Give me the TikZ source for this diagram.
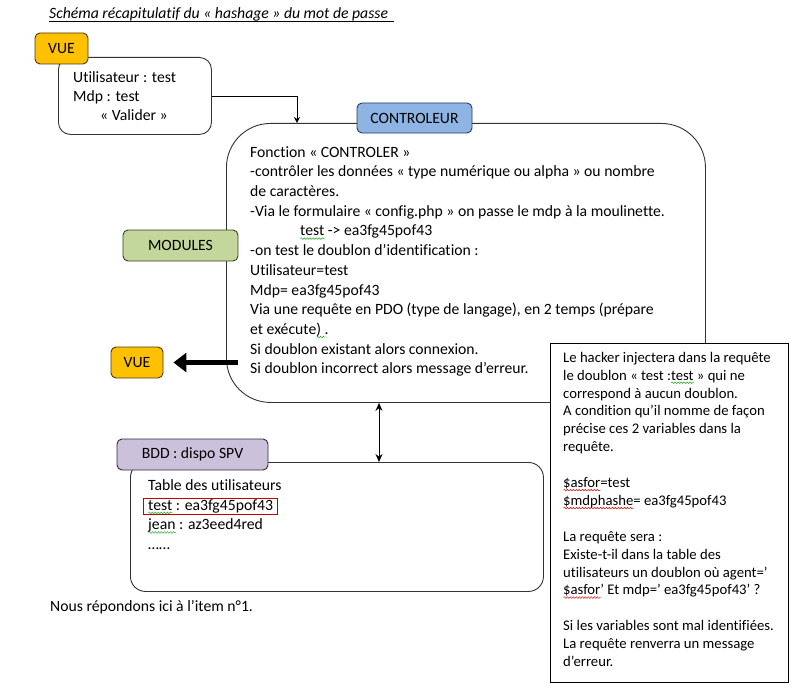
\documentclass[tikz,border=0pt]{standalone}
\usepackage{fontspec}
\setmainfont{Carlito}[Ligatures={TeX,NoCommon}]
\usetikzlibrary{arrows.meta,decorations.pathmorphing}
\definecolor{vuefill}{HTML}{FFC000}
\definecolor{vueedge}{HTML}{4A3A0E}
\definecolor{ctrlfill}{HTML}{8EB4E3}
\definecolor{ctrledge}{HTML}{263E5E}
\definecolor{modfill}{HTML}{C3D69B}
\definecolor{modedge}{HTML}{36431D}
\definecolor{bddfill}{HTML}{CCC1DA}
\definecolor{bddedge}{HTML}{332A3E}
\definecolor{redbox}{HTML}{C00000}
\definecolor{sqred}{HTML}{E01010}
\definecolor{sqgreen}{HTML}{20A020}
\newsavebox{\sqbox}
\newcommand\squig[2]{\sbox{\sqbox}{#2}\leavevmode\rlap{\tikz[baseline=0pt]\draw[#1, line width=0.5pt, decorate, decoration={snake, amplitude=0.8pt, segment length=3pt}] (0pt,-2.6pt) -- (\the\wd\sqbox,-2.6pt);}\usebox{\sqbox}}
\newcommand\redsq[1]{\squig{sqred}{#1}}
\newcommand\grnsq[1]{\squig{sqgreen}{#1}}
\newcommand{\bodyfont}{\fontsize{15.7}{19.7}\selectfont}
\newcommand{\vuefont}{\fontsize{15.7}{19}\selectfont}
\newcommand{\hackfont}{\fontsize{14.7}{17.9}\selectfont}
\tikzset{
  lab/.style={draw=#1, rounded corners=5pt, inner sep=0pt, line width=0.9pt, font=\bodyfont},
  bigbox/.style={draw=black!80, line width=0.9pt, inner sep=0pt, anchor=north west},
  txt/.style={anchor=north west, inner sep=0pt, align=left},
  conn/.style={line width=0.8pt, -{Stealth[length=6pt,width=6pt]}},
  dbl/.style={line width=0.9pt, {Stealth[length=8pt,width=7pt]}-{Stealth[length=8pt,width=7pt]}},
  fat/.style={line width=4.5pt, -{Triangle[length=13pt,width=19pt]}}
}
\begin{document}
\begin{tikzpicture}[x=1pt,y=-1pt]
\useasboundingbox[fill=white] (0,0) rectangle (797,690);

% title
\node[anchor=base west, inner sep=0pt, font=\bodyfont\itshape] (title) at (49,18.5)
  {Schéma récapitulatif du « hashage  » du mot de passe};
\draw[line width=0.6pt] ([yshift=-3pt]title.base west) -- ([yshift=-3pt,xshift=6pt]title.base east);

% controller big box
\node[bigbox, rounded corners=44pt, minimum width=479pt, minimum height=279pt] (ctrl) at (226,123) {};
\node[txt, font=\bodyfont] (ctrltxt) at (250,143.2) {\strut Fonction « CONTROLER »\\
-contrôler les données  « type numérique ou alpha » ou nombre\\
de caractères.\\
-Via le formulaire « config.php » on passe le mdp à la moulinette.\\
\hspace*{50pt}\grnsq{test} -> ea3fg45pof43\\
-on test le doublon  d’identification :\\
Utilisateur=test\\
Mdp= ea3fg45pof43\\
Via une requête en PDO (type de langage), en 2 temps (prépare\\
et exécute\grnsq{)~}.\\
Si doublon  existant alors connexion.\\
Si doublon  incorrect alors message d’erreur.};

% VUE content box
\node[bigbox, rounded corners=12pt, minimum width=153pt, minimum height=77pt] (vuebox) at (58,57) {};
\node[txt, font=\vuefont] (vuetxt) at (73,69) {\strut Utilisateur : test\\
Mdp : test\\
\hspace*{27pt}« Valider »};

% connector VUE -> controller
\coordinate (ctrlin) at (297,123);
\draw[conn] (vuebox.east) -| (ctrlin);

% BDD content box
\node[bigbox, rounded corners=15pt, minimum width=413pt, minimum height=129pt] (bddbox) at (130,462) {};
\node[txt, font=\bodyfont] (bddtxt) at (148,476.5) {\strut Table des utilisateurs\\
\grnsq{test} : ea3fg45pof43\\
\grnsq{jean} : az3eed4red\\
……};
\draw[redbox, line width=0.8pt] (143,498) rectangle (277,514);

% double arrow controller <-> BDD
\coordinate (dx) at (379,0);
\draw[dbl] (dx |- ctrl.south) -- (dx |- bddbox.north);

% labels
\node[lab=vueedge, fill=vuefill, minimum width=53pt, minimum height=31pt] (vue1) at (61.5,48.5) {VUE};
\node[lab=ctrledge, fill=ctrlfill, minimum width=115pt, minimum height=30pt] (ctrllab) at (414.5,118) {CONTROLEUR};
\node[lab=modedge, fill=modfill, minimum width=115pt, minimum height=31pt] (modlab) at (180.5,245.5) {MODULES};
\node[lab=vueedge, fill=vuefill, minimum width=52pt, minimum height=31pt] (vue2) at (137,362.5) {VUE};
\node[lab=bddedge, fill=bddfill, minimum width=151pt, minimum height=31pt] (bddlab) at (192.5,454.5) {BDD : dispo SPV};

% thick arrow to VUE
\coordinate (fatstart) at (238,362.5);
\draw[fat] (fatstart) -- ([xshift=10pt]vue2.east);

% hacker box
\node[bigbox, draw=black, fill=white, minimum width=238pt, minimum height=339pt] (hack) at (550,343) {};
\node[txt, font=\hackfont] (hacktxt) at (563,349.5) {\strut Le hacker injectera dans la requête\\
le doublon « test :\grnsq{test} » qui ne\\
correspond à aucun doublon.\\
A condition qu’il nomme de façon\\
précise ces 2 variables dans la\\
requête.\\
\mbox{}\\
\redsq{\$asfor}=test\\
\redsq{\$mdphashe}= ea3fg45pof43\\
\mbox{}\\
La requête sera :\\
Existe-t-il dans la table des\\
utilisateurs un doublon où agent=’\\
\redsq{\$asfor}’ Et mdp=’ ea3fg45pof43’ ?\\
\mbox{}\\
Si les variables sont mal identifiées.\\
La requête renverra un message\\
d’erreur.};

% footer
\node[anchor=base west, inner sep=0pt, font=\bodyfont] (foot) at (50,611) {Nous répondons  ici à l’item n°1.};
\end{tikzpicture}
\end{document}
